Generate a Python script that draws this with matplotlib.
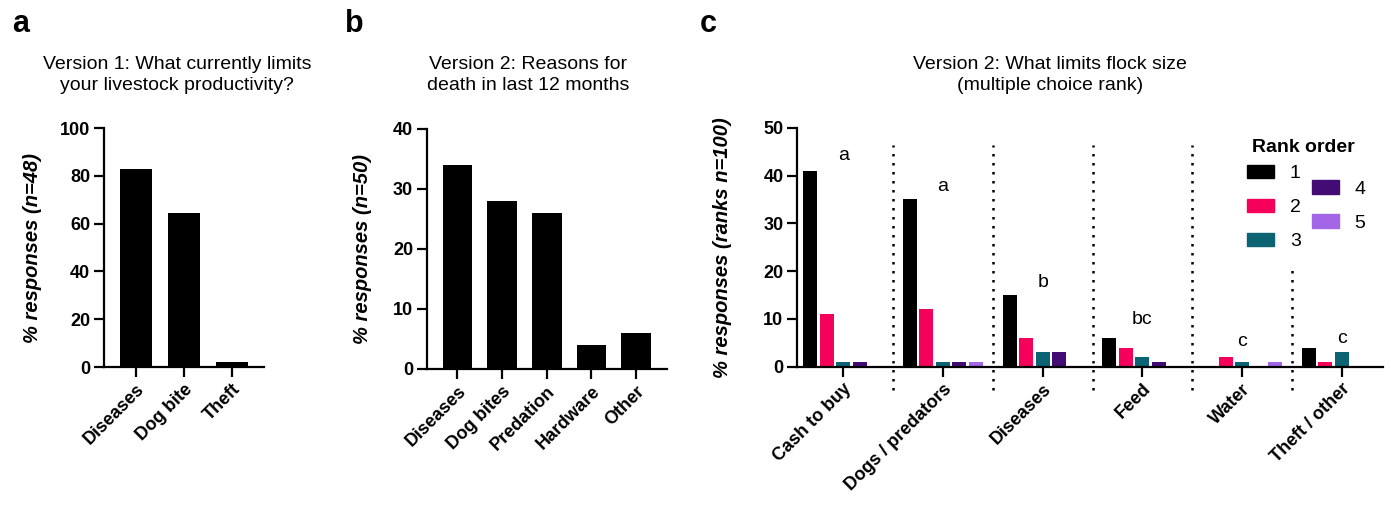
import numpy as np
import matplotlib
matplotlib.use("Agg")
import matplotlib.pyplot as plt
from matplotlib.patches import Patch

plt.rcParams['font.family'] = ['Liberation Sans', 'DejaVu Sans']

# panel a
a_cats = ["Diseases", "Dog bite", "Theft"]
a_vals = [83, 64.5, 2]

# panel b
b_cats = ["Diseases", "Dog bites", "Predation", "Hardware", "Other"]
b_vals = [34, 28, 26, 4, 6]

# panel c
c_cats = ["Cash to buy", "Dogs / predators", "Diseases", "Feed", "Water", "Theft / other"]
rank1 = [41, 35, 15, 6, 0, 4]
rank2 = [11, 12, 6, 4, 2, 1]
rank3 = [1, 1, 3, 2, 1, 3]
rank4 = [1, 1, 3, 1, 0, 0]
rank5 = [0, 1, 0, 0, 1, 0]
ranks = [rank1, rank2, rank3, rank4, rank5]
rank_labels = ["1", "2", "3", "4", "5"]
rank_colors = ["#000000", "#F5005A", "#0B6373", "#430B74", "#A366E6"]
sig_letters = ["a", "a", "b", "bc", "c", "c"]
sig_y = [44.1, 37.8, 17.6, 9.8, 5.2, 5.9]
sep_top = [46.4, 46.4, 46.4, 46.4, 20.9]

fig = plt.figure(figsize=(13.91, 5.07), dpi=100)

TICK = 13
LBL = 14.5


def style(ax):
    for s in ["top", "right"]:
        ax.spines[s].set_visible(False)
    for s in ["left", "bottom"]:
        ax.spines[s].set_linewidth(1.6)
    ax.tick_params(width=1.6, length=7, labelsize=TICK, pad=3)
    for t in ax.get_yticklabels():
        t.set_fontweight("bold")
    for t in ax.get_xticklabels():
        t.set_fontweight("bold")
        t.set_rotation(45)
        t.set_ha("right")
        t.set_rotation_mode("anchor")


# ---- a
ax1 = fig.add_axes([0.07477, 0.2761, 0.11503, 0.4714])
x = np.arange(len(a_cats))
ax1.bar(x, a_vals, width=0.667, color="black")
ax1.set_xlim(-0.66, 2.67)
ax1.set_ylim(0, 100)
ax1.set_yticks(np.arange(0, 101, 20))
ax1.set_xticks(x)
ax1.set_xticklabels(a_cats)
style(ax1)
ax1.set_ylabel("% responses (n=48)", fontsize=LBL, fontweight="bold", style="italic")
ax1.yaxis.set_label_coords(-0.39, 0.5)

# ---- b
ax2 = fig.add_axes([0.30697, 0.2722, 0.17254, 0.4734])
x = np.arange(len(b_cats))
ax2.bar(x, b_vals, width=0.66, color="black")
ax2.set_xlim(-0.68, 4.69)
ax2.set_ylim(0, 40)
ax2.set_yticks(np.arange(0, 41, 10))
ax2.set_xticks(x)
ax2.set_xticklabels(b_cats)
style(ax2)
ax2.set_ylabel("% responses (n=50)", fontsize=LBL, fontweight="bold", style="italic")
ax2.yaxis.set_label_coords(-0.23, 0.5)

# ---- c
ax3 = fig.add_axes([0.5732, 0.2767, 0.42085, 0.4714])
x = np.arange(len(c_cats))
slot = 0.166
for i, vals in enumerate(ranks):
    ax3.bar(x + (i - 2) * slot, vals, width=0.14, color=rank_colors[i],
            label=rank_labels[i])
ax3.set_xlim(-0.46, 5.41)
ax3.set_ylim(0, 50)
ax3.set_yticks(np.arange(0, 51, 10))
ax3.set_xticks(x)
ax3.set_xticklabels(c_cats)
style(ax3)
ax3.set_ylabel("% responses (ranks n=100)", fontsize=LBL, fontweight="bold", style="italic")
ax3.yaxis.set_label_coords(-0.112, 0.5)

for i, top in enumerate(sep_top):
    ax3.plot([i + 0.5, i + 0.5], [-4.9, top], color="black", lw=1.8,
             ls=(0, (1, 2.6)), clip_on=False)

for i, (s, y) in enumerate(zip(sig_letters, sig_y)):
    ax3.text(i, y, s, ha="center", va="center", fontsize=14)

# legend: two columns, second shifted down half a row
h = [Patch(color=c) for c in rank_colors]
leg_kw = dict(frameon=False, fontsize=14, handlelength=1.4, handleheight=0.67,
              handletextpad=0.8, labelspacing=0.85, borderpad=0, borderaxespad=0,
              loc="upper left", bbox_transform=fig.transFigure)
leg1 = ax3.legend(h[:3], rank_labels[:3], bbox_to_anchor=(0.8965, 0.6746), **leg_kw)
ax3.add_artist(leg1)
ax3.legend(h[3:], rank_labels[3:], bbox_to_anchor=(0.943, 0.644), **leg_kw)
fig.text(1303 / 1391, 1 - 148 / 507, "Rank order", ha="center", va="center",
         fontsize=14, fontweight="bold")

# titles
fig.text(177 / 1391, 1 - 75 / 507, "Version 1: What currently limits\nyour livestock productivity?",
         ha="center", va="center", fontsize=14, linespacing=1.35)
fig.text(528 / 1391, 1 - 75 / 507, "Version 2: Reasons for\ndeath in last 12 months",
         ha="center", va="center", fontsize=14, linespacing=1.35)
fig.text(1050 / 1391, 1 - 75 / 507, "Version 2: What limits flock size\n(multiple choice rank)",
         ha="center", va="center", fontsize=14, linespacing=1.35)

# panel letters
for px, s in [(12, "a"), (345, "b"), (700, "c")]:
    fig.text(px / 1391, 1 - 24 / 507, s, ha="left", va="center", fontsize=22,
             fontweight="bold")

fig.savefig("out.png", dpi=100)
